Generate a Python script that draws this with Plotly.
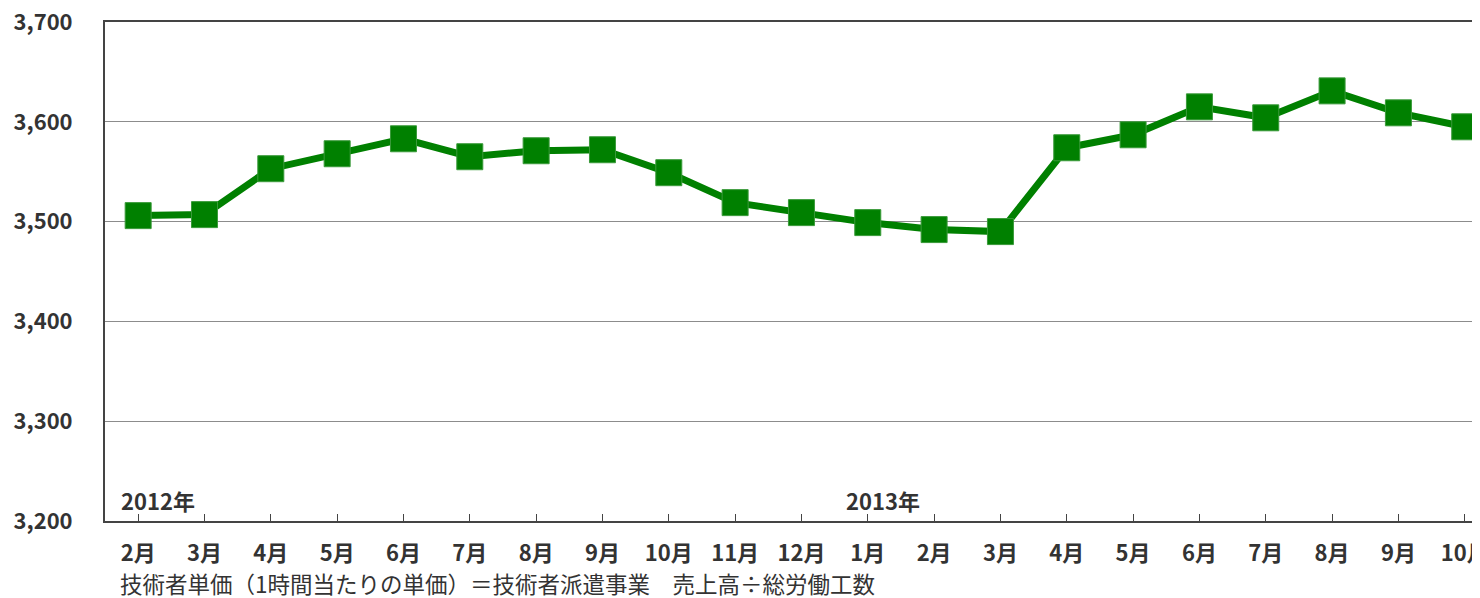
import plotly.graph_objects as go

months = ["2月", "3月", "4月", "5月", "6月", "7月", "8月", "9月", "10月", "11月", "12月",
          "1月", "2月", "3月", "4月", "5月", "6月", "7月", "8月", "9月", "10月"]
values = [3506, 3507, 3553, 3568, 3583, 3565, 3571, 3572, 3549, 3519, 3509,
          3499, 3492, 3490, 3574, 3587, 3615, 3604, 3631, 3609, 3595]
year_labels = ["2012年", "2013年"]
year_pos = [-0.29, 10.64]
y_ticks = [3200, 3300, 3400, 3500, 3600, 3700]
footnote = "技術者単価（1時間当たりの単価）＝技術者派遣事業　売上高÷総労働工数"

FONT = "Noto Sans CJK JP"
TXT = "#333333"
idx = list(range(len(months)))

fig = go.Figure()
fig.add_trace(go.Scatter(
    x=idx, y=values, mode="lines+markers",
    line=dict(color="#008000", width=7),
    marker=dict(symbol="square", size=26, color="#008000",
                line=dict(color="#3a9a3a", width=1)),
    hoverinfo="skip", showlegend=False, cliponaxis=False,
))

for lbl, pos in zip(year_labels, year_pos):
    fig.add_annotation(x=pos, y=3221, xref="x", yref="y", text=lbl,
                       showarrow=False, xanchor="left", yanchor="middle",
                       font=dict(family=FONT, size=22, color=TXT, weight="bold"))

fig.add_annotation(x=(118 - 105) / 1375, y=(521 - 583) / 499, xref="paper", yref="paper",
                   text=footnote, showarrow=False, xanchor="left", yanchor="middle",
                   font=dict(family=FONT, size=22.5, color=TXT))

# page body has an 8px margin, so the figure is sized to fill the rest of the window
fig.update_layout(
    width=1472, height=590,
    margin=dict(l=97, r=0, t=14, b=77, autoexpand=False),
    paper_bgcolor="white", plot_bgcolor="white",
    font=dict(family=FONT, color=TXT),
    xaxis=dict(
        tickmode="array", tickvals=idx, ticktext=months,
        range=[-0.5, 20.23], showgrid=False, zeroline=False,
        showline=True, linecolor="#444444", linewidth=2, mirror=True,
        ticks="inside", ticklen=7, tickcolor="#444444", tickwidth=1,
        tickson="boundaries",
        tickfont=dict(family=FONT, size=22, color=TXT, weight="bold"),
        ticklabelstandoff=12, ticklabeloverflow="allow", automargin=False,
    ),
    yaxis=dict(
        range=[3200, 3700], tickvals=y_ticks, tickformat=",d",
        showgrid=True, gridcolor="#8c8c8c", gridwidth=1, zeroline=False,
        showline=True, linecolor="#444444", linewidth=2, ticks="",
        tickfont=dict(family=FONT, size=22, color=TXT, weight="bold"),
        ticklabelstandoff=26, ticklabeloverflow="allow", automargin=False,
    ),
)

fig.write_html("out.html")
